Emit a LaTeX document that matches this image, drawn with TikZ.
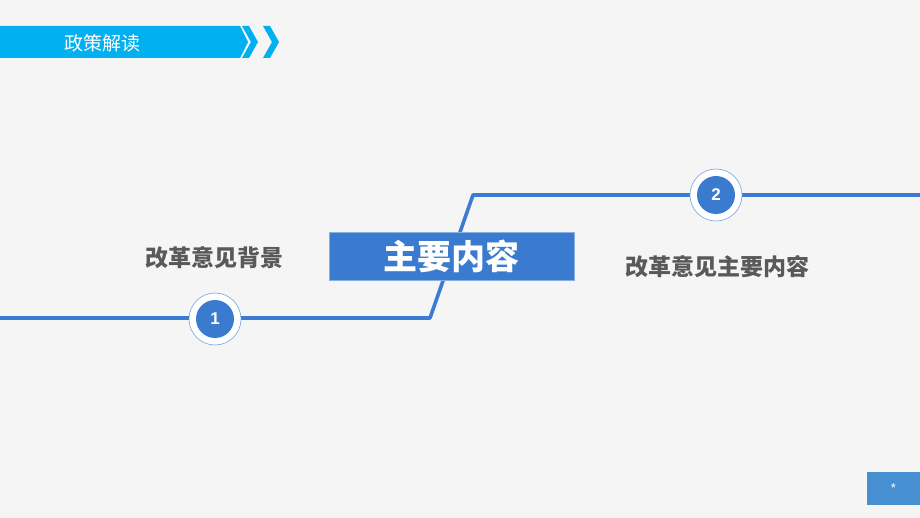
\documentclass[tikz,border=0pt]{standalone}
\usepackage{fontspec}
\newfontfamily\cjk{Noto Sans CJK SC}
\setmainfont{Liberation Sans}
\definecolor{bg}{HTML}{F5F5F5}
\definecolor{cyanbar}{HTML}{00B0F0}
\definecolor{mainblue}{HTML}{3A7BD0}
\definecolor{lineblue}{HTML}{3C7BD3}
\definecolor{cornerblue}{HTML}{4690D2}
\definecolor{txtgray}{HTML}{595959}
\tikzset{
  mainline/.style={draw=lineblue,line width=3.6pt,line join=round},
  outerring/.style={circle,fill=white,draw=lineblue!70,line width=0.6pt,minimum size=52pt,inner sep=0pt},
  innerdisc/.style={circle,fill=mainblue,minimum size=38pt,inner sep=0pt,text=white,font=\bfseries\fontsize{17}{17}\selectfont},
  sidelabel/.style={text=txtgray,font=\cjk\bfseries\fontsize{23}{23}\selectfont},
}
\begin{document}
\begin{tikzpicture}[x=1pt,y=-1pt]
\useasboundingbox (0,0) rectangle (920,518);
\fill[bg] (0,0) rectangle (920,518);
% header
\fill[cyanbar] (0,26) -- (240,26) -- (248,42) -- (240,58) -- (0,58) -- cycle;
\fill[cyanbar] (242,26) -- (249,26) -- (258,42) -- (249,58) -- (242,58) -- (251,42) -- cycle;
\fill[cyanbar] (263,26) -- (270,26) -- (279,42) -- (270,58) -- (263,58) -- (272,42) -- cycle;
\node[text=white,font=\cjk\fontsize{19}{19}\selectfont] (title) at (102,43) {政策解读};
% main line
\coordinate (L0) at (0,318);
\coordinate (L1) at (430,318);
\coordinate (L2) at (473,195);
\coordinate (L3) at (920,195);
\draw[mainline] (L0) -- (L1) -- (L2) -- (L3);
% main box
\node[fill=mainblue,draw=mainblue!60!white,line width=0.5pt,minimum width=245pt,minimum height=48pt,inner sep=0pt,text=white,font=\cjk\bfseries\fontsize{34}{34}\selectfont] (main) at (451.5,256) {主要内容};
% circles
\node[outerring] (c1) at (215,319) {};
\node[innerdisc] (n1) at (215,319) {1};
\node[outerring] (c2) at (716,195) {};
\node[innerdisc] (n2) at (716,195) {2};
% labels
\node[sidelabel] (lab1) at (214,258) {改革意见背景};
\node[sidelabel] (lab2) at (717,267) {改革意见主要内容};
% corner box
\node[fill=cornerblue,minimum width=53pt,minimum height=33pt,inner sep=0pt,text=white,font=\fontsize{13}{13}\selectfont] (page) at (893.5,488.5) {*};
\end{tikzpicture}
\end{document}
